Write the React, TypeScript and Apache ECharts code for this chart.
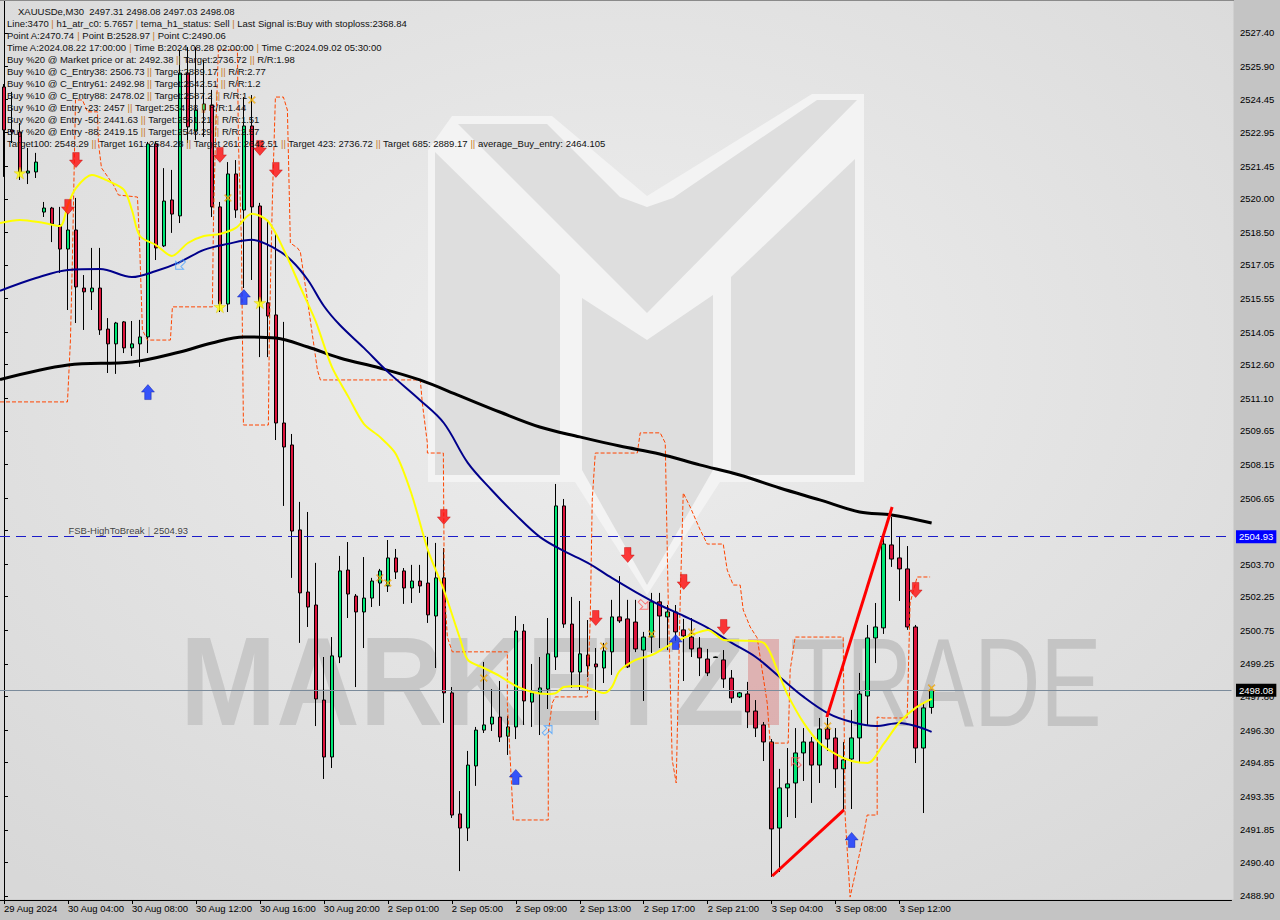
import React, { useEffect, useRef } from "react";
import * as echarts from "echarts";

const FONT = "'Liberation Sans', Arial, sans-serif";

// ---- axis labels ----
const TIME_LABELS = [
  "29 Aug 2024", "30 Aug 04:00", "30 Aug 08:00", "30 Aug 12:00", "30 Aug 16:00",
  "30 Aug 20:00", "2 Sep 01:00", "2 Sep 05:00", "2 Sep 09:00", "2 Sep 13:00",
  "2 Sep 17:00", "2 Sep 21:00", "3 Sep 04:00", "3 Sep 08:00", "3 Sep 12:00",
];
const BARS_PER_LABEL = 8;
const SLOT_COUNT = 154; // visible bar slots, including the empty right margin

const PRICE_TICKS = [
  2527.4, 2525.9, 2524.45, 2522.95, 2521.45, 2520.0, 2518.5, 2517.05, 2515.55,
  2514.05, 2512.6, 2511.1, 2509.65, 2508.15, 2506.65, 2505.2, 2503.7, 2502.25,
  2500.75, 2499.25, 2497.8, 2496.3, 2494.85, 2493.35, 2491.85, 2490.4, 2488.9,
];
// the 2505.20 label sits under the FSB price box, so only its tick is drawn
const PRICE_LABELS = PRICE_TICKS.filter((v) => v !== 2505.2);
const Y_MIN = 2488.72;
const Y_MAX = 2528.87;

// ---- XAUUSDe M30 candles ----
const OPEN = [
  2524.99, 2523.07, 2522.98, 2521.15, 2521.2, 2519.41, 2519.59, 2518.83, 2517.76, 2518.61,
  2516.02, 2515.85, 2516.02, 2514.19, 2513.53, 2514.51, 2513.35, 2513.53, 2513.84, 2522.45,
  2517.9, 2519.95, 2519.24, 2525.61, 2523.03, 2523.96, 2524.19, 2519.64, 2515.31, 2521.11,
  2519.5, 2523.25, 2519.68, 2515.36, 2514.82, 2510.0, 2509.02, 2505.23, 2502.46, 2501.88,
  2497.64, 2495.1, 2499.56, 2503.44, 2502.28, 2501.57, 2502.19, 2502.86, 2502.73, 2503.98,
  2503.4, 2502.64, 2502.95, 2502.86, 2501.39, 2503.09, 2497.96, 2492.56, 2491.93, 2494.7,
  2496.3, 2496.57, 2496.88, 2496.03, 2496.44, 2500.72, 2497.55, 2497.96, 2498.13, 2499.56,
  2506.3, 2501.03, 2498.89, 2499.65, 2499.25, 2499.07, 2499.79, 2501.35, 2501.26, 2501.12,
  2499.87, 2500.45, 2502.02, 2501.35, 2501.57, 2500.77, 2500.45, 2499.96, 2499.47, 2499.54,
  2499.43, 2498.62, 2497.78, 2497.91, 2497.15, 2496.53, 2495.77, 2491.93, 2493.72, 2493.94,
  2495.28, 2495.77, 2494.74, 2496.35, 2495.95, 2494.57, 2495.01, 2495.95, 2497.82, 2500.41,
  2500.86, 2504.56, 2503.98, 2503.49, 2500.9, 2495.5, 2497.31,
];
const HIGH = [
  2525.12, 2524.77, 2523.38, 2522.27, 2522.05, 2519.86, 2519.64, 2519.64, 2519.37, 2520.04,
  2516.6, 2517.81, 2517.81, 2514.68, 2514.51, 2514.55, 2514.55, 2514.6, 2522.54, 2522.54,
  2521.37, 2521.29, 2526.64, 2526.77, 2526.77, 2526.19, 2524.86, 2519.86, 2521.64, 2521.73,
  2524.54, 2524.63, 2519.82, 2519.06, 2518.48, 2514.51, 2509.51, 2506.48, 2506.03, 2503.76,
  2499.56, 2500.45, 2504.07, 2504.69, 2502.37, 2504.02, 2503.09, 2503.49, 2504.78, 2504.38,
  2503.53, 2503.67, 2503.67, 2504.92, 2504.65, 2504.42, 2498.22, 2493.58, 2495.37, 2496.44,
  2499.34, 2498.13, 2498.49, 2496.93, 2501.39, 2501.03, 2499.25, 2499.56, 2501.3, 2507.28,
  2506.61, 2502.24, 2502.06, 2501.21, 2499.96, 2500.19, 2502.11, 2503.17, 2502.11, 2502.11,
  2500.68, 2502.42, 2502.42, 2501.88, 2501.88, 2501.26, 2501.3, 2500.45, 2499.92, 2499.58,
  2499.87, 2498.98, 2498.0, 2498.45, 2497.64, 2496.66, 2495.9, 2494.57, 2495.5, 2496.39,
  2496.39, 2495.99, 2496.84, 2496.84, 2496.39, 2495.77, 2497.2, 2498.85, 2500.99, 2501.97,
  2504.87, 2505.81, 2504.92, 2504.51, 2500.99, 2497.46, 2498.08,
];
const LOW = [
  2520.98, 2522.49, 2520.84, 2520.66, 2520.93, 2519.19, 2518.07, 2516.69, 2515.04, 2514.46,
  2514.15, 2515.04, 2513.93, 2512.23, 2512.19, 2513.12, 2512.99, 2512.5, 2513.12, 2517.27,
  2517.85, 2518.48, 2518.92, 2522.49, 2522.63, 2522.76, 2519.19, 2514.95, 2514.95, 2519.15,
  2516.02, 2516.38, 2512.94, 2512.94, 2509.24, 2506.3, 2503.09, 2500.19, 2500.9, 2496.48,
  2494.12, 2494.61, 2499.29, 2501.3, 2498.22, 2499.96, 2501.79, 2501.84, 2502.46, 2503.04,
  2501.93, 2501.97, 2502.42, 2501.08, 2499.07, 2496.62, 2492.38, 2490.01, 2491.35, 2493.81,
  2496.17, 2496.26, 2495.77, 2495.19, 2495.9, 2496.53, 2496.44, 2496.08, 2497.24, 2498.98,
  2500.86, 2498.18, 2498.05, 2498.67, 2496.75, 2498.4, 2498.76, 2501.08, 2499.07, 2499.78,
  2497.6, 2499.74, 2499.96, 2499.87, 2500.19, 2498.49, 2499.56, 2498.71, 2498.71, 2499.52,
  2498.18, 2497.51, 2497.73, 2496.39, 2495.99, 2494.92, 2489.75, 2489.97, 2492.42, 2492.38,
  2494.03, 2493.05, 2493.94, 2495.37, 2493.72, 2492.74, 2492.78, 2494.83, 2496.53, 2499.29,
  2500.59, 2503.58, 2502.06, 2500.77, 2494.83, 2492.6, 2497.03,
];
const CLOSE = [
  2523.07, 2522.98, 2521.2, 2521.24, 2521.64, 2519.59, 2518.88, 2517.76, 2518.61, 2516.07,
  2515.85, 2516.02, 2514.15, 2513.53, 2514.46, 2513.35, 2513.53, 2513.84, 2522.45, 2517.81,
  2519.9, 2519.32, 2525.61, 2523.21, 2523.96, 2524.23, 2519.64, 2515.31, 2521.11, 2519.5,
  2523.25, 2519.64, 2515.4, 2514.77, 2510.0, 2508.93, 2505.18, 2502.42, 2501.79, 2497.69,
  2495.1, 2499.61, 2503.4, 2502.37, 2501.57, 2502.19, 2502.95, 2503.4, 2503.98, 2503.35,
  2502.64, 2502.95, 2502.73, 2501.44, 2503.09, 2497.96, 2492.51, 2491.93, 2494.74, 2496.3,
  2496.53, 2496.88, 2495.99, 2496.44, 2500.72, 2497.6, 2497.96, 2498.18, 2499.7, 2506.3,
  2501.03, 2498.89, 2499.7, 2499.16, 2499.12, 2499.83, 2501.35, 2501.17, 2499.12, 2499.92,
  2500.45, 2502.02, 2501.39, 2501.57, 2500.68, 2500.5, 2499.92, 2499.52, 2498.85, 2499.56,
  2498.58, 2497.73, 2497.96, 2497.11, 2496.39, 2495.77, 2491.89, 2493.72, 2493.9, 2495.28,
  2495.77, 2494.74, 2496.35, 2495.9, 2494.57, 2494.97, 2495.95, 2497.91, 2500.41, 2500.9,
  2504.6, 2503.93, 2503.49, 2500.9, 2495.5, 2497.29, 2498.08,
];

// ---- indicator lines: [bar position, price] ----
const MA_SLOW = [
  [-0.5, 2511.94], [8, 2512.59], [16, 2512.72], [22, 2513.17], [26, 2513.57], [30, 2513.84],
  [34, 2513.79], [38, 2513.39], [42, 2512.9], [47, 2512.45], [52, 2511.92], [57, 2511.21],
  [62, 2510.49], [67, 2509.82], [72, 2509.38], [77, 2508.97], [82, 2508.62], [87, 2508.13],
  [92, 2507.68], [97, 2507.1], [102, 2506.57], [107, 2506.03], [111, 2505.9], [116, 2505.54],
];
const MA_MID = [
  [-0.5, 2515.9], [4, 2516.47], [8, 2516.83], [12, 2516.87], [16, 2516.51], [19, 2516.78],
  [22, 2517.18], [25, 2517.72], [28, 2517.99], [31, 2518.17], [34, 2517.76], [36, 2517.23],
  [38, 2516.38], [40, 2515.22], [42, 2514.37], [45, 2513.35], [48, 2512.28], [52, 2511.03],
  [55, 2510.0], [58, 2508.22], [61, 2507.0], [64, 2505.9], [67, 2504.92], [70, 2504.29],
  [73, 2503.76], [76, 2503.09], [79, 2502.46], [82, 2501.88], [85, 2501.39], [88, 2500.86],
  [91, 2500.19], [94, 2499.56], [97, 2498.67], [100, 2497.78], [103, 2497.06], [106, 2496.66],
  [109, 2496.48], [112, 2496.62], [114, 2496.48], [116, 2496.22],
];
const MA_FAST = [
  [-0.5, 2518.92], [2, 2519.06], [5, 2518.92], [7, 2518.79], [8, 2519.73], [9, 2520.48],
  [11, 2521.06], [13, 2520.8], [15, 2520.4], [16, 2519.5], [17, 2518.34], [19, 2517.94],
  [21, 2517.45], [23, 2518.03], [25, 2518.34], [27, 2518.43], [29, 2518.7], [31, 2519.33],
  [33, 2519.01], [35, 2517.72], [37, 2516.11], [39, 2514.51], [41, 2512.5], [43, 2511.21],
  [45, 2509.96], [47, 2509.38], [49, 2508.62], [51, 2506.79], [53, 2504.34], [55, 2502.55],
  [57, 2500.41], [58, 2499.43], [60, 2499.07], [62, 2498.71], [64, 2498.27], [66, 2498.0],
  [68, 2497.91], [69, 2497.95], [70, 2498.22], [72, 2498.27], [74, 2498.05], [75, 2497.95],
  [76, 2498.22], [77, 2498.94], [79, 2499.43], [81, 2499.65], [83, 2500.05], [85, 2500.41],
  [87, 2500.68], [88, 2500.77], [90, 2500.32], [93, 2500.28], [95, 2500.19], [97, 2498.71],
  [98, 2497.87], [100, 2496.62], [102, 2495.72], [104, 2495.23], [106, 2494.92], [108, 2494.83],
  [110, 2495.68], [112, 2496.66], [114, 2497.29], [116, 2497.69],
];
const STOP_LINE = [
  [-0.5, 2510.94], [7.94, 2510.94], [8.31, 2513.7], [8.56, 2517.41], [8.94, 2524.41], [9.81, 2524.41],
  [10.44, 2523.88], [11.69, 2523.88], [11.81, 2522.49], [12.19, 2521.38], [13.69, 2520.62],
  [14.31, 2520.17], [16.69, 2520.08], [16.94, 2518.16], [17.31, 2514.15], [17.94, 2513.7],
  [20.81, 2513.7], [21.06, 2515.18], [26.06, 2515.18], [26.19, 2518.92], [26.44, 2522.63],
  [26.81, 2526.64], [29.19, 2526.64], [29.31, 2522.63], [29.69, 2518.16], [29.94, 2509.91],
  [33.06, 2509.91], [33.19, 2514.15], [33.56, 2519.95], [33.94, 2524.54], [34.94, 2524.54],
  [35.44, 2523.96], [35.69, 2519.95], [35.81, 2518.03], [36.69, 2517.81], [37.06, 2517.63],
  [37.94, 2515.49], [39.19, 2512.37], [39.56, 2511.92], [52.06, 2511.92], [52.31, 2510.89],
  [52.94, 2509.11], [52.94, 2508.66], [54.94, 2508.66], [55.06, 2502.69], [55.44, 2500.45],
  [56.06, 2499.79], [62.94, 2499.79], [62.94, 2497.51], [63.31, 2494.97], [63.69, 2492.29],
  [68.06, 2492.29], [68.06, 2496.17], [68.56, 2497.51], [68.94, 2497.78], [72.94, 2497.78],
  [73.31, 2501.21], [73.56, 2506.57], [73.94, 2508.66], [79.19, 2508.66], [79.56, 2509.56],
  [82.06, 2509.56], [82.69, 2509.11], [83.06, 2502.1], [83.56, 2494.97], [84.06, 2493.94],
  [84.56, 2502.1], [84.94, 2506.88], [85.81, 2506.25], [87.06, 2505.23], [87.94, 2504.6],
  [89.94, 2504.6], [90.44, 2503.44], [91.19, 2502.77], [92.06, 2502.77], [92.44, 2501.66],
  [93.31, 2500.9], [94.19, 2500.41], [95.44, 2497.51], [95.81, 2495.72], [98.06, 2495.72],
  [98.31, 2498.98], [98.94, 2500.45], [104.94, 2500.45], [105.19, 2492.42], [105.81, 2488.85],
  [107.44, 2491.53], [107.94, 2492.51], [109.19, 2492.51], [109.19, 2496.88], [109.94, 2496.84],
  [112.94, 2496.84], [113.31, 2501.97], [114.19, 2503.13], [115.81, 2503.13],
];
const TREND_LOW = [[96.06, 2489.79], [105.04, 2492.74]];
const TREND_HIGH = [[102.9, 2496.88], [111.06, 2506.25]];

// ---- signal markers ----
const SELL_SIGNALS = [
  [9, 2521.73], [8, 2519.64], [27, 2521.96], [32, 2522.27], [34, 2521.29], [55, 2505.81],
  [74, 2501.3], [78, 2504.11], [85, 2502.91], [90, 2500.9], [114, 2502.55],
];
const BUY_SIGNALS = [[18, 2511.38], [30, 2515.62], [64, 2494.21], [106, 2491.4], [84, 2500.23]];
const STAR_MARKS = [[2, 2521.15], [27, 2515.18], [32, 2515.36]];
const CROSS_MARKS = [
  [28, 2520.04], [31, 2524.41], [47, 2503.09], [48, 2502.86], [60, 2498.62],
  [75, 2500.05], [81, 2500.59], [86, 2500.68], [103, 2496.48], [116, 2498.18],
];
const EXIT_BLUE = [[22, 2517.05, 225], [68, 2496.31, 45]];
const EXIT_PINK = [[80, 2501.88, -45], [99, 2494.88, 135]];

const FSB_LEVEL = 2504.93;
const LAST = OPEN.length - 1;

const HEADER_LINES = [
  `XAUUSDe,M30  ${OPEN[LAST].toFixed(2)} ${HIGH[LAST].toFixed(2)} ${LOW[LAST].toFixed(2)} ${CLOSE[LAST].toFixed(2)}`,
  "Line:3470 | h1_atr_c0: 5.7657 | tema_h1_status: Sell | Last Signal is:Buy with stoploss:2368.84",
  "Point A:2470.74 | Point B:2528.97 | Point C:2490.06",
  "Time A:2024.08.22 17:00:00 | Time B:2024.08.28 02:00:00 | Time C:2024.09.02 05:30:00",
  "Buy %20 @ Market price or at: 2492.38 || Target:2736.72 || R/R:1.98",
  "Buy %10 @ C_Entry38: 2506.73 || Target:2889.17 || R/R:2.77",
  "Buy %10 @ C_Entry61: 2492.98 || Target:2642.51 || R/R:1.2",
  "Buy %10 @ C_Entry88: 2478.02 || Target:2587.2 || R/R:1",
  "Buy %10 @ Entry -23: 2457 || Target:2534.88 || R/R:1.44",
  "Buy %20 @ Entry -50: 2441.63 || Target:2561.21 || R/R:1.51",
  "Buy %20 @ Entry -88: 2419.15 || Target:2548.29 || R/R:2.57",
  "Target100: 2548.29 || Target 161: 2584.28 || Target 261: 2642.51 || Target 423: 2736.72 || Target 685: 2889.17 || average_Buy_entry: 2464.105",
];

const BULL = "#00e676";
const BEAR = "#dc143c";

const toRich = (s: string) =>
  s
    .split(/(\|+)/)
    .filter((p) => p.length > 0)
    .map((p) => (p[0] === "|" ? `{s|${p}}` : `{t|${p}}`))
    .join("");

const isLabelSlot = (i: number) =>
  i % BARS_PER_LABEL === 0 && i / BARS_PER_LABEL < TIME_LABELS.length;

const ARROW_DOWN = "path://M3,0 L9,0 L9,7 L12,7 L6,14 L0,7 L3,7 Z";
const ARROW_UP = "path://M6,0 L12,7 L9,7 L9,14 L3,14 L3,7 L0,7 Z";
const STAR = "path://M50,0 L61,35 L98,35 L68,57 L79,91 L50,70 L21,91 L32,57 L2,35 L39,35 Z";
const CROSS = "path://M0,1 L1,0 L5,4 L9,0 L10,1 L6,5 L10,9 L9,10 L5,6 L1,10 L0,9 L4,5 Z";
const HOLLOW_ARROW = "path://M0,4 L7,4 L7,0 L13,6 L7,12 L7,8 L0,8 Z";

function buildOption() {
  const headerTexts = HEADER_LINES.map((line, i) => ({
    type: "text",
    x: i === 0 ? 18 : 7,
    y: 11 + 12 * i,
    z: 50,
    silent: true,
    style: {
      text: toRich(line),
      verticalAlign: "middle",
      align: "left",
      rich: {
        t: { fill: "#111", fontSize: 9.5, fontFamily: FONT },
        s: { fill: "#c8782a", fontSize: 9.5, fontFamily: FONT },
      },
    },
  }));

  const logoFill = "#dedede";
  const graphic = [
    {
      type: "rect",
      z: 0,
      silent: true,
      shape: { x: 0, y: 0, width: 1233.5, height: 899.5 },
      style: {
        fill: new echarts.graphic.RadialGradient(0.5, 0.4, 0.75, [
          { offset: 0, color: "#eeeeee" },
          { offset: 1, color: "#d8d8d8" },
        ]),
      },
    },
    {
      type: "line",
      z: 1,
      silent: true,
      shape: { x1: 0, y1: 0.5, x2: 1234, y2: 0.5 },
      style: { stroke: "#8a8a8a", lineWidth: 1 },
    },
    // watermark logo
    {
      type: "polygon",
      z: 1,
      silent: true,
      shape: {
        points: [[428, 150], [452, 116], [552, 116], [647, 196], [812, 94], [864, 94], [864, 482], [720, 482], [647, 595], [575, 482], [428, 482]],
      },
      style: { fill: "#f3f3f3" },
    },
    {
      type: "polygon", z: 1, silent: true,
      shape: { points: [[458, 124], [547, 124], [620, 197], [647, 207], [673, 198], [817, 100], [857, 100], [647, 313]] },
      style: { fill: logoFill },
    },
    {
      type: "polygon", z: 1, silent: true,
      shape: { points: [[435, 152], [560, 275], [560, 475], [435, 475]] },
      style: { fill: logoFill },
    },
    {
      type: "polygon", z: 1, silent: true,
      shape: { points: [[855, 159], [731, 277], [731, 475], [855, 475]] },
      style: { fill: logoFill },
    },
    {
      type: "polygon", z: 1, silent: true,
      shape: { points: [[582, 298], [647, 340], [713, 295], [713, 470], [647, 585], [582, 470]] },
      style: { fill: logoFill },
    },
    // watermark wordmark
    {
      type: "text", z: 1, silent: true, x: 180, y: 682, scaleX: 0.917,
      style: { text: "MARKETZ", font: `bold 126px ${FONT}`, fill: "#c8c8c8", verticalAlign: "middle", align: "left" },
    },
    {
      type: "rect", z: 1, silent: true,
      shape: { x: 748, y: 639, width: 31, height: 86 },
      style: { fill: "rgba(214,110,110,0.42)" },
    },
    {
      type: "text", z: 1, silent: true, x: 790, y: 682, scaleX: 0.73,
      style: { text: "TRADE", font: `126px ${FONT}`, fill: "#c4c4c4", verticalAlign: "middle", align: "left" },
    },
    ...headerTexts,
  ];

  const marker = (data: any[], symbol: string, size: any, itemStyle: any, z = 8) => ({
    type: "scatter",
    xAxisIndex: 1,
    yAxisIndex: 0,
    data,
    symbol,
    symbolSize: size,
    itemStyle,
    z,
    silent: true,
  });

  const priceLabel = (bg: string) => ({
    show: true,
    position: "end",
    distance: 4.5,
    formatter: (p: any) => Number(p.value).toFixed(2),
    backgroundColor: bg,
    color: "#fff",
    padding: [2, 3, 1, 3],
    fontSize: 9.5,
    fontFamily: FONT,
  });

  return {
    animation: false,
    backgroundColor: "#c4c4c4",
    graphic,
    grid: { left: -0.5, top: 0, width: SLOT_COUNT * 8, height: 900 },
    xAxis: [
      {
        type: "category",
        data: Array.from({ length: SLOT_COUNT }, (_, i) => String(i)),
        boundaryGap: true,
        axisLine: { show: true, lineStyle: { color: "#000", width: 1 } },
        axisTick: {
          show: true,
          alignWithLabel: true,
          interval: (i: number) => isLabelSlot(i),
          length: 4,
          lineStyle: { color: "#000" },
        },
        axisLabel: {
          interval: (i: number) => isLabelSlot(i),
          formatter: (_v: string, i: number) => (isLabelSlot(i) ? TIME_LABELS[i / BARS_PER_LABEL] : ""),
          align: "left",
          color: "#000",
          fontSize: 9.5,
          fontFamily: FONT,
          margin: 3,
        },
        splitLine: { show: false },
      },
      { type: "value", min: -0.5, max: SLOT_COUNT - 0.5, show: false },
    ],
    yAxis: {
      type: "value",
      position: "right",
      min: Y_MIN,
      max: Y_MAX,
      offset: 2.5,
      axisLine: { show: true, lineStyle: { color: "#000", width: 1 } },
      axisTick: { show: true, length: 4, customValues: PRICE_TICKS, lineStyle: { color: "#000" } },
      axisLabel: {
        customValues: PRICE_LABELS,
        formatter: (v: number) => v.toFixed(2),
        color: "#000",
        fontSize: 9.5,
        fontFamily: FONT,
        margin: 6,
      },
      splitLine: { show: false },
    },
    series: [
      {
        type: "candlestick",
        xAxisIndex: 0,
        yAxisIndex: 0,
        barWidth: 4,
        z: 3,
        silent: true,
        data: OPEN.map((o, i) => [o, CLOSE[i], LOW[i], HIGH[i]]),
        itemStyle: { color: BULL, color0: BEAR, borderColor: "#000", borderColor0: "#000", borderWidth: 1 },
        markLine: {
          silent: true,
          symbol: ["none", "none"],
          animation: false,
          data: [
            { yAxis: FSB_LEVEL, lineStyle: { color: "#1c1cc8", width: 1, type: [10, 6] }, label: priceLabel("#0000ff") },
            { yAxis: CLOSE[LAST], lineStyle: { color: "#7b8b9b", width: 1, type: "solid" }, label: priceLabel("#000") },
          ],
        },
      },
      {
        type: "line", xAxisIndex: 1, yAxisIndex: 0, data: STOP_LINE, showSymbol: false, silent: true, z: 4,
        lineStyle: { color: "#ff4500", width: 1, type: [4, 2] },
      },
      {
        type: "line", xAxisIndex: 1, yAxisIndex: 0, data: MA_SLOW, showSymbol: false, silent: true, z: 5, smooth: 0.35,
        lineStyle: { color: "#000", width: 3 },
      },
      {
        type: "line", xAxisIndex: 1, yAxisIndex: 0, data: MA_MID, showSymbol: false, silent: true, z: 5, smooth: 0.35,
        lineStyle: { color: "#00008b", width: 2 },
      },
      {
        type: "line", xAxisIndex: 1, yAxisIndex: 0, data: MA_FAST, showSymbol: false, silent: true, z: 5, smooth: 0.3,
        lineStyle: { color: "#ffff00", width: 2 },
      },
      {
        type: "line", xAxisIndex: 1, yAxisIndex: 0, data: TREND_LOW, showSymbol: false, silent: true, z: 6,
        lineStyle: { color: "#ff0000", width: 3 },
      },
      {
        type: "line", xAxisIndex: 1, yAxisIndex: 0, data: TREND_HIGH, showSymbol: false, silent: true, z: 6,
        lineStyle: { color: "#ff0000", width: 3 },
      },
      marker(SELL_SIGNALS, ARROW_DOWN, [13, 15], { color: "#ff0a0a", borderColor: "#b80000", borderWidth: 0.5 }),
      marker(BUY_SIGNALS, ARROW_UP, [13, 15], { color: "#0a2eff", borderColor: "#00109a", borderWidth: 0.5 }),
      marker(STAR_MARKS, STAR, 12, { color: "#ffff00", borderColor: "#e0c000", borderWidth: 0.5 }),
      marker(CROSS_MARKS, CROSS, 7, { color: "#ffd700", borderColor: "#e07800", borderWidth: 0.6 }),
      marker(
        EXIT_BLUE.map((d) => ({ value: [d[0], d[1]], symbolRotate: d[2] })),
        HOLLOW_ARROW, [12, 11], { color: "rgba(0,0,0,0)", borderColor: "#4aa3ff", borderWidth: 1 }
      ),
      marker(
        EXIT_PINK.map((d) => ({ value: [d[0], d[1]], symbolRotate: d[2] })),
        HOLLOW_ARROW, [12, 11], { color: "rgba(0,0,0,0)", borderColor: "#ff5a5a", borderWidth: 1 }
      ),
      {
        type: "scatter",
        xAxisIndex: 1,
        yAxisIndex: 0,
        data: [[8.06, FSB_LEVEL]],
        symbolSize: 0,
        silent: true,
        z: 7,
        label: {
          show: true,
          position: [0, -12],
          align: "left",
          verticalAlign: "top",
          formatter: `{a|FSB-HighToBreak} {s||} {a|${FSB_LEVEL.toFixed(2)}}`,
          rich: {
            a: { color: "#111", fontSize: 9.5, fontFamily: FONT },
            s: { color: "#777", fontSize: 9.5, fontFamily: FONT },
          },
        },
      },
    ],
  };
}

export default function App() {
  const ref = useRef<HTMLDivElement>(null);
  useEffect(() => {
    if (!ref.current) return;
    const chart = echarts.init(ref.current, undefined, { renderer: "svg" });
    chart.setOption(buildOption() as any);
    return () => chart.dispose();
  }, []);
  return (
    <div
      ref={ref}
      style={{ position: "fixed", left: 0, top: 0, width: 1280, height: 920 }}
    />
  );
}
